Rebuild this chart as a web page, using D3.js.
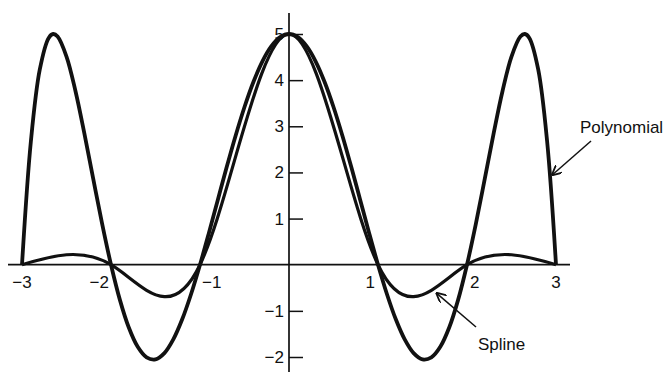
<!DOCTYPE html>
<html>
<head>
<meta charset="utf-8">
<script src="https://cdn.jsdelivr.net/npm/d3@7"></script>
<style>
  html, body { margin: 0; padding: 0; background: #fff; }
  svg { display: block; }
  text { font-family: "Liberation Sans", Arial, sans-serif; fill: #111; }
</style>
</head>
<body>
<svg id="chart" width="669" height="374"></svg>
<script>
// Interpolation nodes (x = -3 … 3)
const nodeX = [-3, -2, -1, 0, 1, 2, 3];
const nodeY = [0, 0, 0, 5, 0, 0, 0];

// Degree-6 interpolating polynomial, sampled along x
const polyX = [-3.0, -2.9, -2.8, -2.7, -2.65, -2.6, -2.5, -2.4, -2.3, -2.2, -2.1,
  -2.0, -1.9, -1.8, -1.7, -1.6, -1.5, -1.4, -1.3, -1.2, -1.1,
  -1.0, -0.9, -0.8, -0.7, -0.6, -0.5, -0.4, -0.3, -0.2, -0.1,
  0.0, 0.1, 0.2, 0.3, 0.4, 0.5, 0.6, 0.7, 0.8, 0.9,
  1.0, 1.1, 1.2, 1.3, 1.4, 1.5, 1.6, 1.7, 1.8, 1.9,
  2.0, 2.1, 2.2, 2.3, 2.4, 2.5, 2.6, 2.65, 2.7, 2.8, 2.9, 3.0];
const polyY = [0, 2.678, 4.232, 4.915, 5.0, 4.946, 4.512, 3.770, 2.852, 1.864, 0.891,
  0, -0.762, -1.362, -1.780, -2.009, -2.051, -1.915, -1.618, -1.183, -0.634,
  0, 0.689, 1.404, 2.116, 2.796, 3.418, 3.960, 4.403, 4.731, 4.932,
  5, 4.932, 4.731, 4.403, 3.960, 3.418, 2.796, 2.116, 1.404, 0.689,
  0, -0.634, -1.183, -1.618, -1.915, -2.051, -2.009, -1.780, -1.362, -0.762,
  0, 0.891, 1.864, 2.852, 3.770, 4.512, 4.946, 5.0, 4.915, 4.232, 2.678, 0];

// Axis tick labels
const xTicks = [-3, -2, -1, 1, 2, 3];
const yTicks = [-2, -1, 1, 2, 3, 4, 5];

const svg = d3.select("#chart");

const x = d3.scaleLinear().domain([-3, 3]).range([22, 556]);
const y = d3.scaleLinear().domain([-2, 5]).range([357, 34]);

// Arrow marker
svg.append("defs").append("marker")
  .attr("id", "arrow")
  .attr("viewBox", "0 0 10 10")
  .attr("refX", 9).attr("refY", 5)
  .attr("markerWidth", 10).attr("markerHeight", 10)
  .attr("markerUnits", "userSpaceOnUse")
  .attr("orient", "auto")
  .append("path")
  .attr("d", "M0,0 L10,5 L0,10")
  .attr("fill", "none")
  .attr("stroke", "#111")
  .attr("stroke-width", 1.8);

// x axis line
svg.append("line")
  .attr("x1", 8).attr("x2", 570)
  .attr("y1", y(0)).attr("y2", y(0))
  .attr("stroke", "#111").attr("stroke-width", 1.7);

// y axis line
svg.append("line")
  .attr("x1", x(0)).attr("x2", x(0))
  .attr("y1", 13).attr("y2", 372)
  .attr("stroke", "#111").attr("stroke-width", 1.7);

// y ticks (to the right of the axis) and labels (to the left)
const yAxis = d3.axisRight(y).tickValues(yTicks).tickSize(14).tickFormat("");
const gy = svg.append("g").attr("transform", `translate(${x(0)},0)`).call(yAxis);
gy.select(".domain").remove();
gy.selectAll(".tick line").attr("stroke", "#111").attr("stroke-width", 1.5);

svg.append("g").selectAll("text").data(yTicks).join("text")
  .attr("x", x(0) - 5)
  .attr("y", d => y(d) + 6)
  .attr("text-anchor", "end")
  .attr("font-size", 17)
  .text(d => d < 0 ? "\u2212" + Math.abs(d) : d);

// x tick labels placed beside each crossing
const xAnchor = { "-3": "middle", "-2": "end", "-1": "start", "1": "end", "2": "start", "3": "middle" };
const xShift = { "-3": 0, "-2": -2, "-1": 2, "1": -3, "2": 3, "3": 0 };
svg.append("g").selectAll("text").data(xTicks).join("text")
  .attr("x", d => x(d) + xShift[d])
  .attr("y", y(0) + 23)
  .attr("text-anchor", d => xAnchor[d])
  .attr("font-size", 17)
  .text(d => d < 0 ? "\u2212" + Math.abs(d) : d);

// Natural cubic spline through the nodes
const splineLine = d3.line()
  .x(d => x(d[0])).y(d => y(d[1]))
  .curve(d3.curveNatural);
svg.append("path")
  .datum(nodeX.map((v, i) => [v, nodeY[i]]))
  .attr("d", splineLine)
  .attr("fill", "none")
  .attr("stroke", "#111")
  .attr("stroke-width", 3.2);

// Interpolating polynomial
const polyLine = d3.line()
  .x(d => x(d[0])).y(d => y(d[1]))
  .curve(d3.curveCatmullRom.alpha(0.5));
svg.append("path")
  .datum(polyX.map((v, i) => [v, polyY[i]]))
  .attr("d", polyLine)
  .attr("fill", "none")
  .attr("stroke", "#111")
  .attr("stroke-width", 3.8)
  .attr("stroke-linejoin", "round");

// Annotations
svg.append("line")
  .attr("x1", 591).attr("y1", 141)
  .attr("x2", x(2.96)).attr("y2", y(1.95))
  .attr("stroke", "#111").attr("stroke-width", 1.5)
  .attr("marker-end", "url(#arrow)");
svg.append("text")
  .attr("x", 580).attr("y", 133)
  .attr("font-size", 17)
  .text("Polynomial");

svg.append("line")
  .attr("x1", 476).attr("y1", 327)
  .attr("x2", x(1.66)).attr("y2", y(-0.62))
  .attr("stroke", "#111").attr("stroke-width", 1.5)
  .attr("marker-end", "url(#arrow)");
svg.append("text")
  .attr("x", 478).attr("y", 350)
  .attr("font-size", 17)
  .text("Spline");
</script>
</body>
</html>
